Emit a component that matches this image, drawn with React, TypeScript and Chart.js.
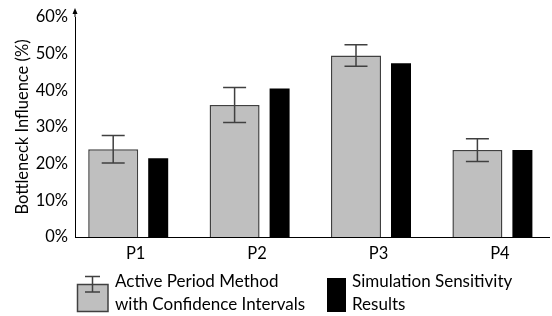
import React, { useEffect, useRef } from "react";
import { Chart, registerables } from "chart.js";

Chart.register(...registerables);

const categories = ["P1", "P2", "P3", "P4"];
const apmValues = [23.9, 36.0, 49.5, 23.7];
const apmErrors = [3.75, 4.8, 2.9, 3.1];
const simValues = [21.5, 40.5, 47.4, 23.7];
const yTicks = [0, 10, 20, 30, 40, 50, 60];
const apmLabel = ["Active Period Method", "with Confidence Intervals"];
const simLabel = ["Simulation Sensitivity", "Results"];

const FONT = "Lato, 'Open Sans', sans-serif";
const GRAY = "#bfbfbf";
const DARK = "#404040";
const TEXT = "#000";
const CATEGORY_WIDTH = 121.4;

const widenXPlugin = {
  id: "widenX",
  afterLayout(chart: any) {
    const x = chart.scales.x;
    x.width = CATEGORY_WIDTH * categories.length;
    x.right = x.left + x.width;
    x.configure();
  },
};

const errorBarPlugin = {
  id: "errorBars",
  afterDatasetsDraw(chart: any) {
    const meta = chart.getDatasetMeta(0);
    const y = chart.scales.y;
    const ctx = chart.ctx;
    ctx.save();
    ctx.strokeStyle = DARK;
    ctx.lineWidth = 1.5;
    meta.data.forEach((el: any, i: number) => {
      const v = apmValues[i];
      const e = apmErrors[i];
      const yt = y.getPixelForValue(v + e);
      const yb = y.getPixelForValue(v - e);
      const x = el.x;
      ctx.beginPath();
      ctx.moveTo(x, yt);
      ctx.lineTo(x, yb);
      ctx.moveTo(x - 11.5, yt);
      ctx.lineTo(x + 11.5, yt);
      ctx.moveTo(x - 11.5, yb);
      ctx.lineTo(x + 11.5, yb);
      ctx.stroke();
    });
    ctx.restore();
  },
};

const decorPlugin = {
  id: "decor",
  afterDraw(chart: any) {
    const ctx = chart.ctx;
    const area = chart.chartArea;
    ctx.save();
    // x axis line
    ctx.strokeStyle = "#000";
    ctx.lineWidth = 1;
    ctx.beginPath();
    ctx.moveTo(area.left, Math.round(area.bottom) + 0.5);
    ctx.lineTo(550, Math.round(area.bottom) + 0.5);
    ctx.stroke();
    // y axis arrow
    ctx.beginPath();
    ctx.moveTo(area.left, area.top);
    ctx.lineTo(area.left, area.top - 5);
    ctx.stroke();
    ctx.fillStyle = "#000";
    ctx.beginPath();
    ctx.moveTo(area.left, area.top - 9);
    ctx.lineTo(area.left - 2.5, area.top - 3);
    ctx.lineTo(area.left + 2.5, area.top - 3);
    ctx.closePath();
    ctx.fill();

    // legend
    ctx.fillStyle = GRAY;
    ctx.fillRect(77.5, 284.5, 30.5, 27);
    ctx.strokeStyle = DARK;
    ctx.lineWidth = 1.5;
    ctx.strokeRect(77.5, 284.5, 30.5, 27);
    ctx.beginPath();
    ctx.moveTo(92.5, 276.5);
    ctx.lineTo(92.5, 292);
    ctx.moveTo(85, 276.5);
    ctx.lineTo(100, 276.5);
    ctx.moveTo(85, 292);
    ctx.lineTo(100, 292);
    ctx.stroke();

    ctx.fillStyle = "#000";
    ctx.fillRect(327, 278, 19, 34);

    ctx.font = `17px ${FONT}`;
    ctx.fillStyle = TEXT;
    ctx.textBaseline = "middle";
    ctx.textAlign = "left";
    apmLabel.forEach((t, i) => ctx.fillText(t, 115, 282 + i * 22.5));
    simLabel.forEach((t, i) => ctx.fillText(t, 352, 282 + i * 22.5));
    ctx.restore();
  },
};

export default function App() {
  const ref = useRef<HTMLCanvasElement>(null);
  useEffect(() => {
    document.body.style.margin = "0";
    const chart = new Chart(ref.current!, {
      type: "bar",
      data: {
        labels: categories,
        datasets: [
          {
            label: apmLabel.join(" "),
            data: apmValues,
            backgroundColor: GRAY,
            borderColor: DARK,
            borderWidth: 1.5,
            categoryPercentage: 90 / CATEGORY_WIDTH,
            barPercentage: 50 / 45,
          },
          {
            label: simLabel.join(" "),
            data: simValues,
            backgroundColor: "#000",
            borderWidth: 0,
            categoryPercentage: 90 / CATEGORY_WIDTH,
            barPercentage: 20 / 45,
          },
        ],
      },
      options: {
        animation: false,
        responsive: false,
        layout: { padding: { left: 0, right: 0, top: 17, bottom: 0 } },
        plugins: { legend: { display: false }, tooltip: { enabled: false } },
        scales: {
          x: {
            grid: { display: false, drawTicks: false },
            border: { display: false },
            ticks: { color: TEXT, font: { family: FONT, size: 16.5 }, padding: 7 },
            afterFit: (s: any) => {
              s.height = 79;
            },
          },
          y: {
            min: 0,
            max: 60,
            afterBuildTicks: (s: any) => {
              s.ticks = yTicks.map((v) => ({ value: v }));
            },
            grid: { display: false, drawTicks: false },
            border: { display: true, color: "#000", width: 1 },
            ticks: {
              color: TEXT,
              font: { family: FONT, size: 16.5 },
              padding: 7,
              callback: (v: any) => `${v}%`,
            },
            title: {
              display: true,
              text: "Bottleneck Influence (%)",
              color: TEXT,
              font: { family: FONT, size: 16.5 },
              padding: { top: 13, bottom: 0 },
            },
            afterFit: (s: any) => {
              s.width = 75;
            },
          },
        },
      },
      plugins: [widenXPlugin, errorBarPlugin, decorPlugin],
    });
    return () => chart.destroy();
  }, []);
  return (
    <div style={{ position: "absolute", left: 0, top: 0, width: 552, height: 316 }}>
      <canvas ref={ref} width={552} height={316} />
    </div>
  );
}
